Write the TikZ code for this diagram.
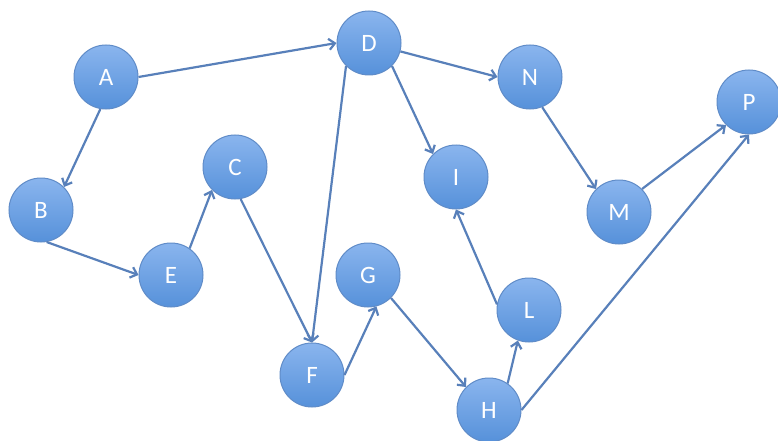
\documentclass[tikz,border=0pt]{standalone}
\usepackage{fontspec}
\setsansfont{Carlito}
\usetikzlibrary{arrows.meta}
\definecolor{edgecol}{RGB}{88,128,186}
\definecolor{nodetop}{RGB}{138,181,238}
\definecolor{nodebot}{RGB}{86,145,218}
\definecolor{nodeline}{RGB}{96,140,200}
\tikzset{
  vert/.style={circle, minimum size=64pt, inner sep=0pt, draw=nodeline, line width=1pt,
    top color=nodetop, bottom color=nodebot, text=white,
    font=\sffamily\fontsize{25}{25}\selectfont},
  conn/.style={draw=edgecol, line width=2.2pt,
    -{Straight Barb[length=6pt,width=11pt]}},
}
\begin{document}
\begin{tikzpicture}[x=1pt,y=-1pt]
\useasboundingbox (0,0) rectangle (778,441);
\fill[white] (0,0) rectangle (778,441);
\node[vert] (A) at (106,77) {A};
\node[vert] (D) at (369,43) {D};
\node[vert] (N) at (530,77) {N};
\node[vert] (P) at (749,102) {P};
\node[vert] (B) at (41,210) {B};
\node[vert] (C) at (235,167) {C};
\node[vert] (I) at (456,177) {I};
\node[vert] (M) at (619,212) {M};
\node[vert] (E) at (171,275) {E};
\node[vert] (G) at (368,275) {G};
\node[vert] (L) at (529,310) {L};
\node[vert] (F) at (312,375) {F};
\node[vert] (H) at (489,410) {H};

\draw[conn] (A.east) -- (D.west);
\draw[conn] (A.-100) -- (B.north east);
\draw[conn] (B.-80) -- (E.west);
\draw[conn] (E.55) -- (C.south west);
\draw[conn] (C.-80) -- (F.north);
\draw[conn] (D.south west) -- (F.north);
\draw[conn] (D.south east) -- (I.north west);
\draw[conn] (D.-15) -- (N.west);
\draw[conn] (N.-68) -- (M.north west);
\draw[conn] (M.north east) -- (P.south west);
\draw[conn] (H.east) -- (P.south);
\draw[conn] (F.east) -- (G.-75);
\draw[conn] (G.south east) -- (H.north west);
\draw[conn] (H.55) -- (L.-110);
\draw[conn] (L.170) -- (I.south);
\end{tikzpicture}
\end{document}
